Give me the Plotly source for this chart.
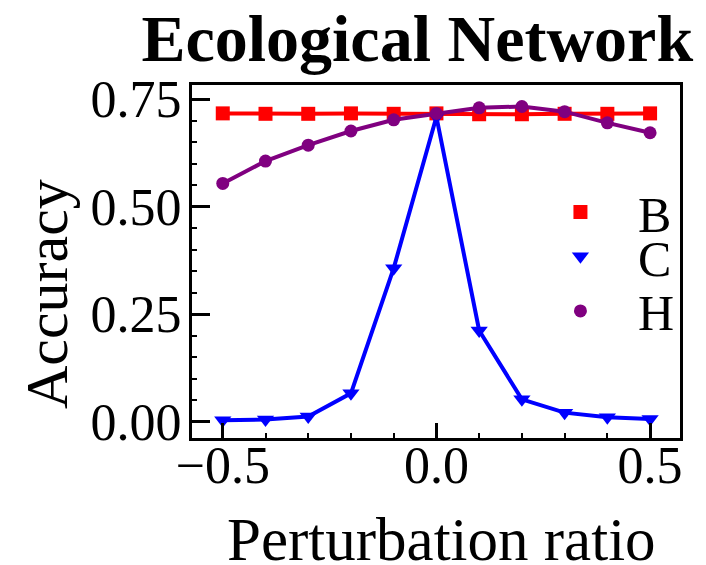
import plotly.graph_objects as go

ratio = [-0.5, -0.4, -0.3, -0.2, -0.1, 0.0, 0.1, 0.2, 0.3, 0.4, 0.5]
acc_B = [0.717, 0.716, 0.716, 0.717, 0.716, 0.717, 0.715, 0.715, 0.716, 0.716, 0.717]
acc_C = [0.003, 0.005, 0.012, 0.066, 0.357, 0.709, 0.212, 0.052, 0.021, 0.010, 0.006]
acc_H = [0.554, 0.606, 0.643, 0.676, 0.702, 0.717, 0.730, 0.733, 0.721, 0.695, 0.672]

series_names = ["B", "C", "H"]
series_values = [acc_B, acc_C, acc_H]
colors = ["#ff0000", "#0000ff", "#800080"]
symbols = ["square", "triangle-down", "circle"]
sizes = [14, 15, 13]
legends = ["legend", "legend2", "legend3"]

x_ticks = [-0.5, 0.0, 0.5]
x_ticktext = ["\u22120.5", "0.0", "0.5"]
y_ticks = [0.0, 0.25, 0.5, 0.75]
y_ticktext = ["0.00", "0.25", "0.50", "0.75"]

x_title = "Perturbation ratio"
y_title = "Accuracy"
chart_title = "Ecological Network"

FONT = "Liberation Serif"
pad = "\u00a0\u00a0\u00a0"

fig = go.Figure()
for name, vals, c, sym, sz, lg in zip(series_names, series_values, colors, symbols, sizes, legends):
    fig.add_trace(go.Scatter(x=ratio, y=vals, mode="lines", showlegend=False,
                             line=dict(color=c, width=4), hoverinfo="skip"))
    fig.add_trace(go.Scatter(x=ratio, y=vals, mode="markers", name=pad + name,
                             marker=dict(symbol=sym, size=sz, color=c),
                             legend=lg, showlegend=True))

leg_common = dict(font=dict(family=FONT, size=50, color="black"), bgcolor="rgba(0,0,0,0)",
                  xanchor="left", yanchor="middle", visible=True)

fig.update_layout(
    width=706, height=565,
    margin=dict(l=192, r=26, t=85, b=127),
    paper_bgcolor="white", plot_bgcolor="white",
    font=dict(family=FONT, color="black"),
    showlegend=True,
    title=dict(text="<b>" + chart_title + "</b>", font=dict(family=FONT, size=66, color="black"),
               x=0.591, xref="container", xanchor="center",
               y=0.933, yref="container", yanchor="middle"),
    legend=dict(x=0.755, y=0.640, **leg_common),
    legend2=dict(x=0.755, y=0.515, **leg_common),
    legend3=dict(x=0.755, y=0.360, **leg_common),
    xaxis=dict(range=[-0.572, 0.570], tickvals=x_ticks, ticktext=x_ticktext,
               ticks="inside", ticklen=15, tickwidth=3, tickcolor="black",
               showline=True, linewidth=3, linecolor="black", mirror=True,
               showgrid=False, zeroline=False, automargin=False,
               ticklabelstandoff=-20,
               tickfont=dict(family=FONT, size=52, color="black"),
               minor=dict(dtick=0.1, tick0=0, ticks="inside", ticklen=5, tickwidth=1.5, tickcolor="black", showgrid=False)),
    yaxis=dict(range=[-0.038, 0.783], tickvals=y_ticks, ticktext=y_ticktext,
               ticks="inside", ticklen=18, tickwidth=3, tickcolor="black",
               showline=True, linewidth=3, linecolor="black", mirror=True,
               showgrid=False, zeroline=False, automargin=False,
               ticklabelstandoff=-3,
               tickfont=dict(family=FONT, size=52, color="black"),
               minor=dict(dtick=0.05, tick0=0, ticks="inside", ticklen=5, tickwidth=1.5, tickcolor="black", showgrid=False)),
    annotations=[
        dict(text=x_title, xref="paper", yref="paper", x=0.512, y=-0.287,
             xanchor="center", yanchor="middle", showarrow=False,
             font=dict(family=FONT, size=61, color="black")),
        dict(text=y_title, xref="paper", yref="paper", x=-0.297, y=0.408,
             xanchor="center", yanchor="middle", showarrow=False, textangle=-90,
             font=dict(family=FONT, size=60, color="black")),
    ],
)

fig.write_html("out.html", post_script="document.body.style.margin='0';",
               config={"displayModeBar": False})
